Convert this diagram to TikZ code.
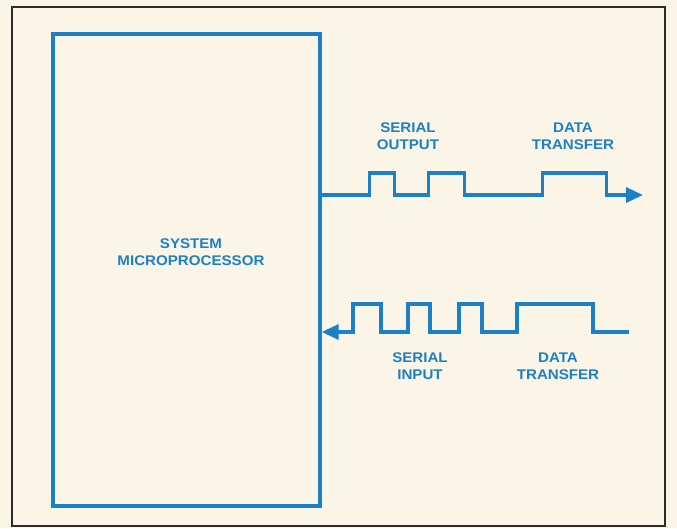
\documentclass[tikz,border=0pt]{standalone}
\usepackage{fontspec}
\newfontfamily\labelfont{Liberation Sans}[FakeStretch=1.08]
\usetikzlibrary{arrows.meta,positioning}
\definecolor{inkblue}{RGB}{28,128,198}
\definecolor{paper}{RGB}{250,245,231}
\definecolor{framegray}{RGB}{45,42,40}

\begin{document}
\begin{tikzpicture}[
    x=1pt, y=-1pt,
    every node/.style={font=\labelfont\bfseries\fontsize{14}{17}\selectfont, text=inkblue},
    cpubox/.style={draw=inkblue, line width=3.4pt, minimum width=267pt, minimum height=472pt, inner sep=0pt},
    lbl/.style={align=center, inner sep=0pt},
    wave/.style={draw=inkblue, line width=3.4pt, line join=miter},
    sig/.style={wave, -{Triangle[length=17pt, width=15pt]}}
]
\fill[paper] (0,0) rectangle (677,528);
\useasboundingbox (0,0) rectangle (677,528);
\draw[framegray, line width=2.4pt] (12,7) rectangle (665,526);

\node[cpubox] (cpu) at (186.5,270) {};
\node[lbl] (cpulabel) at (191,252) {SYSTEM\\MICROPROCESSOR};

\coordinate (outend) at (643,195);
\coordinate (instart) at (629,332);

% serial output
\draw[sig] (cpu.east |- outend) -- ++(48,0) -- ++(0,-22) -- ++(25,0) -- ++(0,22)
    -- ++(34,0) -- ++(0,-22) -- ++(36,0) -- ++(0,22)
    -- ++(78,0) -- ++(0,-22) -- ++(64,0) -- ++(0,22) -- (outend);
\node[lbl] (outlabel) at (408,136) {SERIAL\\OUTPUT};
\node[lbl] (outxfer) at (573,136) {DATA\\TRANSFER};

% serial input
\draw[sig] (instart) -- ++(-36,0) -- ++(0,-28) -- ++(-76,0) -- ++(0,28)
    -- ++(-35,0) -- ++(0,-28) -- ++(-23,0) -- ++(0,28)
    -- ++(-29,0) -- ++(0,-28) -- ++(-22,0) -- ++(0,28)
    -- ++(-27,0) -- ++(0,-28) -- ++(-28,0) -- ++(0,28) -- (cpu.east |- instart);
\node[lbl] (inlabel) at (420,366) {SERIAL\\INPUT};
\node[lbl] (inxfer) at (558,366) {DATA\\TRANSFER};
\end{tikzpicture}
\end{document}
